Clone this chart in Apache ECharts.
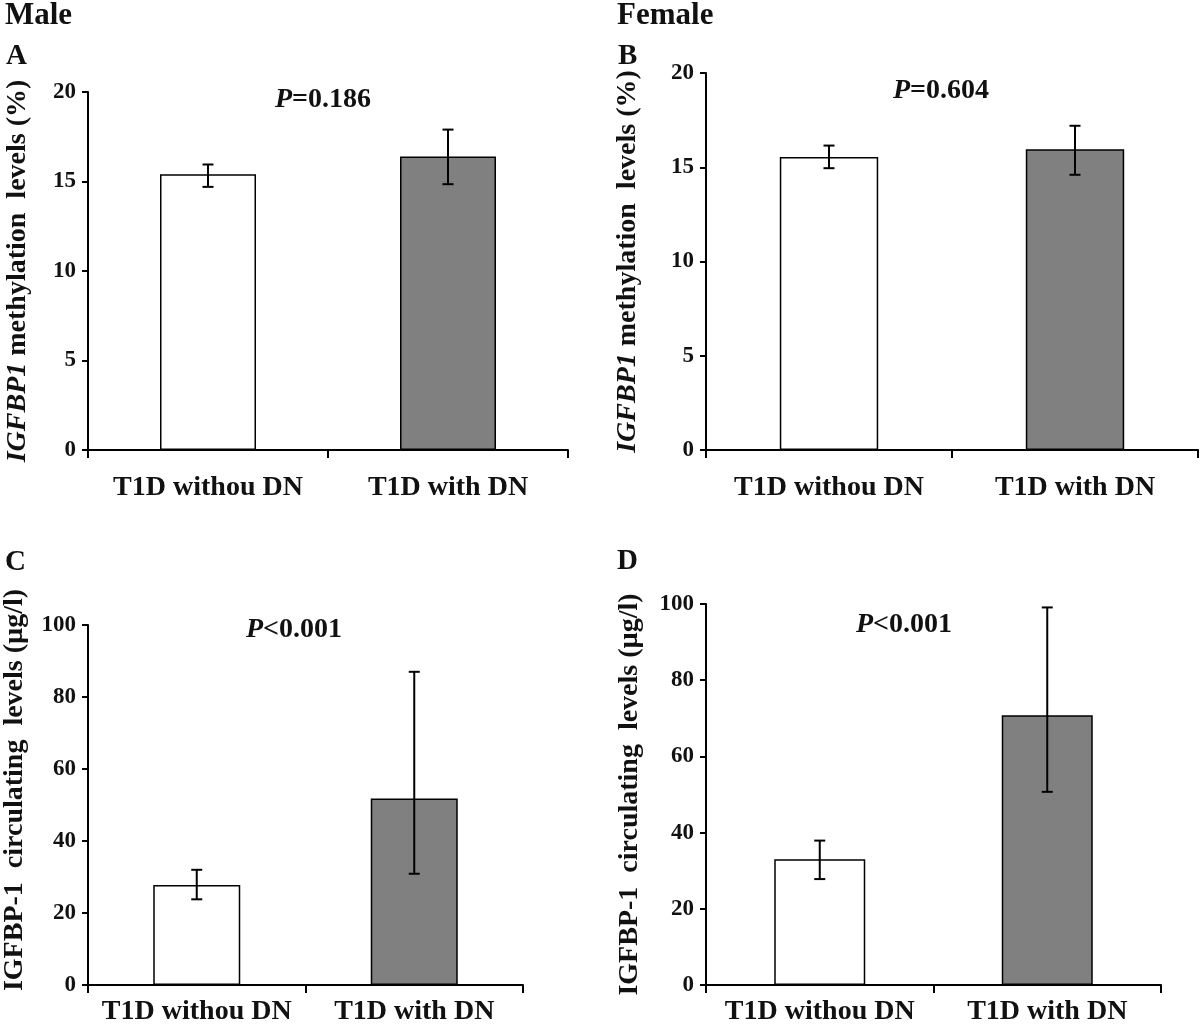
<!DOCTYPE html>
<html>
<head>
<meta charset="utf-8">
<script src="https://cdn.jsdelivr.net/npm/echarts@6/dist/echarts.min.js"></script>
<style>
html,body{margin:0;padding:0;background:#fff;}
#c{width:1200px;height:1031px;}
</style>
</head>
<body>
<div id="c"></div>
<script>
// ---- data ----
var categories = ['T1D withou DN', 'T1D with DN'];

var methylMale      = [15.4, 16.4];
var methylMaleLow   = [14.7, 14.85];
var methylMaleHigh  = [15.95, 17.9];

var methylFemale     = [15.55, 15.95];
var methylFemaleLow  = [14.95, 14.6];
var methylFemaleHigh = [16.15, 17.2];

var circMale      = [27.8, 51.8];
var circMaleLow   = [23.8, 30.9];
var circMaleHigh  = [32.0, 87.0];

var circFemale     = [33.0, 70.8];
var circFemaleLow  = [27.8, 50.7];
var circFemaleHigh = [37.9, 99.1];

var methylTicks = [0, 5, 10, 15, 20];
var circTicks = [0, 20, 40, 60, 80, 100];

var pValues = ['=0.186', '=0.604', '<0.001', '<0.001'];

// ---- styles ----
var FONT = "'Liberation Serif', 'Times New Roman', serif";
var barColors = ['#ffffff', '#808080'];

var grids = [
  {left: 88,  top: 92,  width: 480, height: 358},
  {left: 706, top: 73,  width: 492, height: 377},
  {left: 88,  top: 625, width: 435, height: 360},
  {left: 706, top: 604, width: 455, height: 381}
];
var nameGaps = [56, 64, 59, 62];
var namePads = [[0, 0, 0, 0], [0, 0, 0, 0], [0, 0, 0, 30], [0, 0, 0, 0]];
var labelMargins = [24, 24, 13, 13];

var panels = [
  {vals: methylMale,   low: methylMaleLow,   high: methylMaleHigh,   ticks: methylTicks, title: '{i|IGFBP1} methylation  levels (%)'},
  {vals: methylFemale, low: methylFemaleLow, high: methylFemaleHigh, ticks: methylTicks, title: '{i|IGFBP1} methylation  levels (%)'},
  {vals: circMale,     low: circMaleLow,     high: circMaleHigh,     ticks: circTicks,   title: 'IGFBP-1  circulating  levels (\u00b5g/l)'},
  {vals: circFemale,   low: circFemaleLow,   high: circFemaleHigh,   ticks: circTicks,   title: 'IGFBP-1  circulating  levels (\u00b5g/l)'}
];

var xAxes = [], yAxes = [], series = [];
panels.forEach(function (p, i) {
  var tmin = p.ticks[0], tmax = p.ticks[p.ticks.length - 1];
  xAxes.push({
    type: 'category', gridIndex: i, data: categories,
    boundaryGap: true,
    axisLine: {lineStyle: {color: '#000', width: 2}},
    axisTick: {show: true, length: 8, interval: 0, lineStyle: {color: '#000', width: 2}},
    axisLabel: {interval: 0, hideOverlap: false, color: '#111', fontFamily: FONT, fontWeight: 'bold', fontSize: 28, margin: labelMargins[i]},
    splitLine: {show: false}
  });
  yAxes.push({
    type: 'value', gridIndex: i, min: tmin, max: tmax, interval: p.ticks[1] - p.ticks[0],
    axisLine: {show: true, lineStyle: {color: '#000', width: 2}},
    axisTick: {show: true, length: 6, lineStyle: {color: '#000', width: 2}},
    axisLabel: {color: '#111', fontFamily: FONT, fontWeight: 'bold', fontSize: 23, margin: 12},
    splitLine: {show: false},
    name: p.title,
    nameLocation: 'middle',
    nameRotate: 90,
    nameGap: nameGaps[i],
    nameTextStyle: {
      color: '#111', fontFamily: FONT, fontWeight: 'bold', fontSize: 28,
      padding: namePads[i],
      rich: {i: {fontStyle: 'italic', fontWeight: 'bold', fontFamily: FONT, fontSize: 28, color: '#111'}}
    }
  });
  series.push({
    type: 'bar', xAxisIndex: i, yAxisIndex: i,
    barWidth: '40%',
    data: p.vals.map(function (v, k) {
      return {value: v, itemStyle: {color: barColors[k], borderColor: '#000', borderWidth: 1.5}};
    }),
    silent: true
  });
  series.push({
    type: 'custom', xAxisIndex: i, yAxisIndex: i,
    data: p.vals.map(function (v, k) { return [k, p.low[k], p.high[k]]; }),
    renderItem: function (params, api) {
      var lo = api.coord([api.value(0), api.value(1)]);
      var hi = api.coord([api.value(0), api.value(2)]);
      var cw = 5.5;
      var st = {stroke: '#000', lineWidth: 2};
      return {
        type: 'group',
        children: [
          {type: 'line', shape: {x1: hi[0], y1: hi[1], x2: lo[0], y2: lo[1]}, style: st},
          {type: 'line', shape: {x1: hi[0] - cw, y1: hi[1], x2: hi[0] + cw, y2: hi[1]}, style: st},
          {type: 'line', shape: {x1: lo[0] - cw, y1: lo[1], x2: lo[0] + cw, y2: lo[1]}, style: st}
        ]
      };
    },
    z: 5, silent: true
  });
});

function txt(t, x, y, size, align) {
  return {type: 'text', x: x, y: y, style: {text: t, fill: '#111', font: 'bold ' + size + 'px ' + FONT, textAlign: align || 'left', textVerticalAlign: 'middle'}};
}
function ptxt(v, x, y) {
  return {type: 'text', x: x, y: y, style: {
    text: '{i|P}{n|' + v + '}', textAlign: 'center', textVerticalAlign: 'middle',
    rich: {
      i: {fontFamily: FONT, fontStyle: 'italic', fontWeight: 'bold', fontSize: 28, fill: '#111'},
      n: {fontFamily: FONT, fontWeight: 'bold', fontSize: 28, fill: '#111'}
    }
  }};
}

var graphics = [
  txt('Male', 5, 16, 31),
  txt('A', 6, 57, 29),
  txt('Female', 617, 16, 31),
  txt('B', 618, 57, 29),
  txt('C', 5, 563, 29),
  txt('D', 617, 562, 29),
  ptxt(pValues[0], 323, 100),
  ptxt(pValues[1], 941, 91),
  ptxt(pValues[2], 294, 630),
  ptxt(pValues[3], 904, 625)
];

var chart = echarts.init(document.getElementById('c'), null, {renderer: 'canvas'});
chart.setOption({
  animation: false,
  backgroundColor: '#fff',
  grid: grids.map(function (g) { return Object.assign({containLabel: false}, g); }),
  xAxis: xAxes,
  yAxis: yAxes,
  series: series,
  graphic: graphics
});
</script>
</body>
</html>
